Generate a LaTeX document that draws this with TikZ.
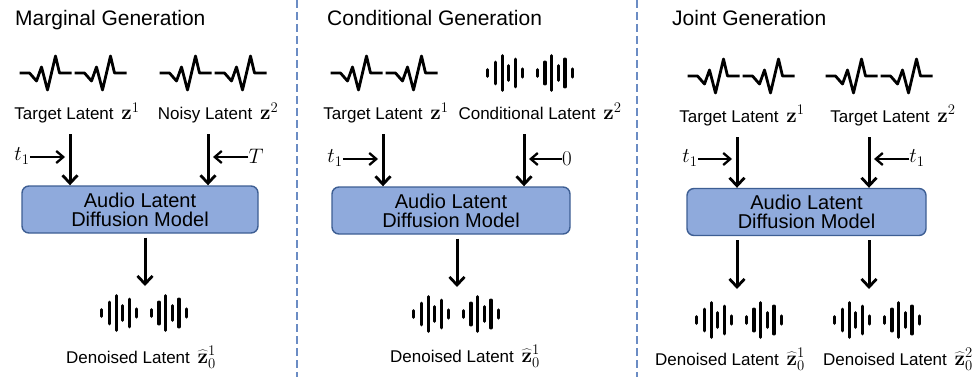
\documentclass[tikz,border=0pt]{standalone}
\usepackage{fix-cm}
\usepackage[no-math]{fontspec}
\setmainfont{Liberation Sans}
\usetikzlibrary{arrows.meta}
\definecolor{boxfill}{HTML}{8FAADC}
\definecolor{boxdraw}{HTML}{3D5E93}
\definecolor{divcol}{HTML}{6B8CC4}
\newcommand\lmath[1]{\hspace{3pt}{\fontsize{21}{24}\selectfont$#1$}}
\tikzset{
  ecgwave/.pic={
    \foreach \s in {-53.5,1.5}{
      \draw[line width=2.8pt,line join=round,line cap=butt]
        (\s,0) -- ({\s+10},0) -- ({\s+17},8) -- ({\s+22},-6) -- ({\s+28},17)
        -- ({\s+36},-17) -- ({\s+40},0) -- ({\s+52},0);
    }
  },
  barwave/.pic={
    \foreach \g in {0,49.4}{
      \foreach \dx/\h in {0/5,7.7/12.5,14.4/19,21/9,27.7/15.5,35/5.7}{
        \draw[line width=3.2pt,line cap=round]
          ({\g+\dx-42.2},{-\h+1.6}) -- ({\g+\dx-42.2},{\h-1.6});
      }
    }
  },
  title/.style={font=\fontsize{21}{24}\selectfont, anchor=base west, inner sep=0pt},
  lab/.style={font=\fontsize{17}{20}\selectfont, anchor=base, inner sep=0pt},
  inlab/.style={font=\fontsize{21}{24}\selectfont, inner sep=0pt},
  model/.style={draw=boxdraw, fill=boxfill, line width=1.4pt, rounded corners=7pt,
    minimum height=47pt, inner sep=0pt, align=center,
    font=\fontsize{20}{19}\selectfont},
  varr/.style={line width=3pt, -{Straight Barb[length=8pt,width=15pt,line width=2.8pt]}},
  harr/.style={line width=2.4pt, -{Straight Barb[length=7pt,width=12pt,line width=2.3pt]}},
  divider/.style={divcol, line width=2.6pt, dash pattern=on 8pt off 4pt},
}
\begin{document}
\begin{tikzpicture}[x=1pt,y=-1pt]
\useasboundingbox (0,0) rectangle (976,377);

% dividers
\coordinate (d1t) at (297,0); \coordinate (d1b) at (297,377);
\coordinate (d2t) at (637,0); \coordinate (d2b) at (637,377);
\draw[divider] (d1t) -- (d1b);
\draw[divider] (d2t) -- (d2b);

% ---------------- Panel 1 ----------------
\node[title] (ti1) at (15,26) {Marginal Generation};
\pic at (73,73) {ecgwave};
\pic at (213,73) {ecgwave};
\node[lab] (l11) at (77,120) {Target Latent \lmath{\mathbf{z}^1}};
\node[lab] (l12) at (218,120) {Noisy Latent \lmath{\mathbf{z}^2}};
\node[model, minimum width=236pt] (box1) at (140,209.5) {Audio Latent\\Diffusion Model};
\coordinate (p1a) at (70,134);
\coordinate (p1b) at (208,134);
\draw[varr] (p1a) -- (p1a |- box1.north);
\draw[varr] (p1b) -- (p1b |- box1.north);
\node[inlab] (p1t) at (22,156) {$t_1$};
\coordinate (p1te) at (65,157);
\draw[harr] (p1t.east |- p1te) -- (p1te);
\node[inlab] (p1T) at (256,156) {$T$};
\coordinate (p1Te) at (213,157);
\draw[harr] (p1T.west |- p1Te) -- (p1Te);
\coordinate (p1o) at (145,286);
\draw[varr, shorten <=4pt] (p1o |- box1.south) -- (p1o);
\pic at (144,313) {barwave};
\node[lab] (l13) at (141,363) {Denoised Latent \lmath{\widehat{\mathbf{z}}_0^1}};

% ---------------- Panel 2 ----------------
\node[title] (ti2) at (327,26) {Conditional Generation};
\pic at (384,73) {ecgwave};
\pic at (530,73) {barwave};
\node[lab] (l21) at (386,120) {Target Latent \lmath{\mathbf{z}^1}};
\node[lab] (l22) at (540,120) {Conditional Latent \lmath{\mathbf{z}^2}};
\node[model, minimum width=238pt] (box2) at (451,210.5) {Audio Latent\\Diffusion Model};
\coordinate (p2a) at (383,134);
\coordinate (p2b) at (524,134);
\draw[varr] (p2a) -- (p2a |- box2.north);
\draw[varr] (p2b) -- (p2b |- box2.north);
\node[inlab] (p2t) at (335,158) {$t_1$};
\coordinate (p2te) at (378,159);
\draw[harr] (p2t.east |- p2te) -- (p2te);
\node[inlab] (p2z) at (567,159) {$0$};
\coordinate (p2ze) at (529,159);
\draw[harr] (p2z.west |- p2ze) -- (p2ze);
\coordinate (p2o) at (457,287);
\draw[varr, shorten <=4pt] (p2o |- box2.south) -- (p2o);
\pic at (456,314) {barwave};
\node[lab] (l23) at (465,362) {Denoised Latent \lmath{\widehat{\mathbf{z}}_0^1}};

% ---------------- Panel 3 ----------------
\node[title] (ti3) at (672,26) {Joint Generation};
\pic at (741,76) {ecgwave};
\pic at (879,76) {ecgwave};
\node[lab] (l31) at (742,122) {Target Latent \lmath{\mathbf{z}^1}};
\node[lab] (l32) at (893,122) {Target Latent \lmath{\mathbf{z}^2}};
\node[model, minimum width=239pt] (box3) at (806.5,212) {Audio Latent\\Diffusion Model};
\coordinate (p3a) at (737,137);
\coordinate (p3b) at (869,137);
\draw[varr] (p3a) -- (p3a |- box3.north);
\draw[varr] (p3b) -- (p3b |- box3.north);
\node[inlab] (p3t) at (690,158) {$t_1$};
\coordinate (p3te) at (732,159);
\draw[harr] (p3t.east |- p3te) -- (p3te);
\node[inlab] (p3t2) at (917,158) {$t_1$};
\coordinate (p3t2e) at (874,159);
\draw[harr] (p3t2.west |- p3t2e) -- (p3t2e);
\coordinate (p3o1) at (737,289);
\coordinate (p3o2) at (869,289);
\draw[varr, shorten <=4pt] (p3o1 |- box3.south) -- (p3o1);
\draw[varr, shorten <=4pt] (p3o2 |- box3.south) -- (p3o2);
\pic at (739,320) {barwave};
\pic at (877,320) {barwave};
\node[lab] (l33) at (730,365) {Denoised Latent \lmath{\widehat{\mathbf{z}}_0^1}};
\node[lab] (l34) at (898,365) {Denoised Latent \lmath{\widehat{\mathbf{z}}_0^2}};
\end{tikzpicture}
\end{document}
